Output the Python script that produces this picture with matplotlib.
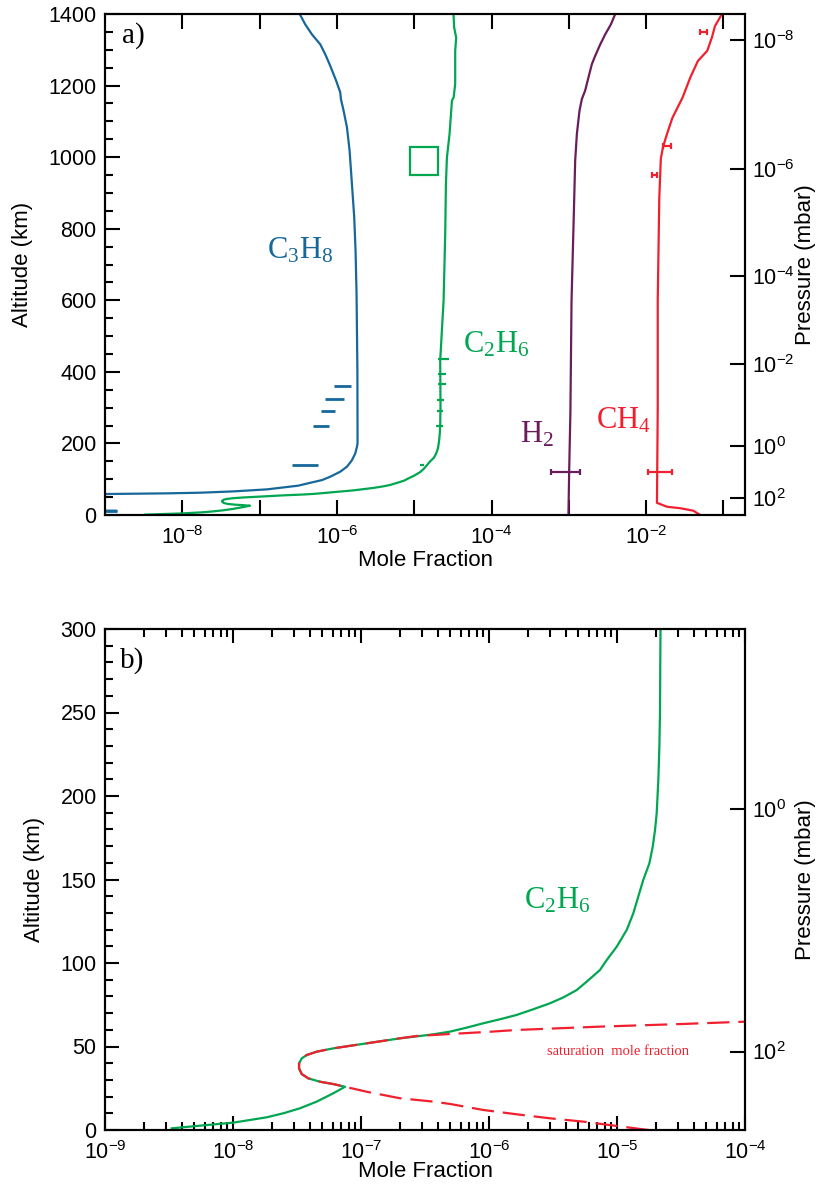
import numpy as np
import matplotlib
matplotlib.use("Agg")
import matplotlib.pyplot as plt
from matplotlib.ticker import MultipleLocator, NullLocator, LogLocator, NullFormatter

plt.rcParams['font.family'] = ['Liberation Sans', 'DejaVu Sans']
plt.rcParams['mathtext.default'] = 'regular'
plt.rcParams['axes.unicode_minus'] = False

# ---------------- data (log10 of mole fraction vs altitude km) ----------------
c3h8_alt = [1397, 1371, 1343, 1315, 1287, 1255, 1213, 1181, 1162, 1130, 1083, 1018, 925, 832, 739, 618,
            400, 200, 190.5, 172, 153, 135, 121, 107, 97.6, 90, 82, 71.6, 66, 62.3, 60.5, 59.5, 58.6,
            56, 14, 11.5, 9, 0]
c3h8_log10x = [-6.474, -6.41, -6.323, -6.215, -6.15, -6.086, -6.009, -5.957, -5.948, -5.914, -5.87,
               -5.836, -5.806, -5.776, -5.759, -5.746, -5.735, -5.733, -5.741, -5.763, -5.806, -5.87,
               -5.957, -6.086, -6.193, -6.345, -6.50, -6.905, -7.336, -7.767, -8.198, -8.629, -8.995,
               -10.0, -10.0, -8.85, -10.0, -10.0]

c2h6_alt = [1400, 1362, 1334, 1297, 1204, 1167, 1158, 1065, 999, 925, 786, 600, 432, 300, 279.4, 249.5,
            229.5, 209.6, 189.6, 179.6, 169.6, 159.7, 149.7, 139.7, 129.7, 119.8, 109.8, 101.8, 95.8,
            88.8, 83.8, 79.4, 75.9, 72.3, 68.9, 66.3, 63.9, 61.3, 58.9, 57.3, 56.3, 54.9, 51.9, 48.9,
            46.9, 44.9, 42.9, 39.9, 36.9, 33.5, 30.9, 28.9, 27.5, 25.9, 22.0, 17.0, 13.0, 10.0, 7.6,
            4.4, 2.6, 1.0]
c2h6_log10x = [-4.492, -4.483, -4.457, -4.47, -4.47, -4.49, -4.512, -4.543, -4.577, -4.59, -4.599, -4.62,
               -4.664, -4.66, -4.662, -4.664, -4.669, -4.677, -4.69, -4.703, -4.721, -4.747, -4.795,
               -4.834, -4.873, -4.924, -5.002, -5.080, -5.133, -5.237, -5.315, -5.419, -5.523, -5.654,
               -5.784, -5.914, -6.045, -6.174, -6.305, -6.435, -6.539, -6.695, -6.955, -7.216, -7.346,
               -7.424, -7.463, -7.484, -7.484, -7.463, -7.411, -7.32, -7.216, -7.125, -7.216, -7.346,
               -7.477, -7.607, -7.737, -7.998, -8.258, -8.479]

h2_alt = [1400, 1371, 1343, 1315, 1283, 1260, 1223, 1186, 1162, 1130, 1065, 990, 879, 739, 600, 284,
          120, 0]
h2_log10x = [-2.40, -2.456, -2.53, -2.594, -2.659, -2.702, -2.746, -2.789, -2.832, -2.862, -2.896,
             -2.918, -2.931, -2.948, -2.965, -2.98, -2.996, -3.005]

ch4_alt = [1400, 1366, 1334, 1297, 1269, 1222, 1166, 1110, 1065, 1030, 996, 886, 600, 300, 34, 23, 19,
           12, 0]
ch4_log10x = [-1.02, -1.11, -1.15, -1.21, -1.33, -1.43, -1.53, -1.66, -1.73, -1.78, -1.81, -1.83, -1.85,
              -1.85, -1.86, -1.73, -1.56, -1.39, -1.30]

# saturation mole fraction of C2H6 (panel b)
sat_alt = [0, 2.4, 5, 7, 9.4, 12, 15.6, 17, 19, 22.9, 25.9, 27.5, 28.9, 30.9, 33.5, 36.9, 39.9, 42.9,
           44.9, 46.9, 48.9, 51.9, 54.9, 56.3, 57.5, 58.8, 59.9, 61.9, 63.5, 64.9]
sat_log10x = [-4.755, -5.0, -5.263, -5.523, -5.784, -6.045, -6.305, -6.435, -6.695, -6.955, -7.125,
              -7.216, -7.32, -7.411, -7.463, -7.484, -7.484, -7.463, -7.424, -7.346, -7.216, -6.955,
              -6.695, -6.565, -6.30, -6.0, -5.784, -5.133, -4.482, -3.987]

# observations (horizontal error ranges)
c3h8_obs_alt = [361, 324, 290, 249, 139, 11]
c3h8_obs_lo = [-6.04, -6.16, -6.21, -6.31, -6.58, -9.3]
c3h8_obs_hi = [-5.82, -5.91, -6.02, -6.10, -6.24, -8.85]

c2h6_obs_alt = [435, 395, 365, 320, 290, 249, 140]
c2h6_obs_lo = [-4.69, -4.69, -4.69, -4.70, -4.71, -4.72, -4.92]
c2h6_obs_hi = [-4.55, -4.59, -4.59, -4.62, -4.63, -4.63, -4.87]

c2h6_square_alt = [990]
c2h6_square_log10x = [-4.88]

h2_obs_alt = [119]
h2_obs_mid = [-3.00]
h2_obs_lo = [-3.23]
h2_obs_hi = [-2.86]

ch4_obs_alt = [1350, 1030, 951, 119]
ch4_obs_mid = [-1.255, -1.73, -1.89, -1.84]
ch4_obs_lo = [-1.30, -1.78, -1.92, -1.97]
ch4_obs_hi = [-1.21, -1.68, -1.86, -1.67]

# pressure axis (altitude of pressure levels)
p_exp = [2, 0, -2, -4, -6, -8]
p_alt = [47, 192, 421, 667, 968, 1328]

a_xtick_exp = [-8, -7, -6, -5, -4, -3, -2, -1]
a_xlabel_exp = [-8, -6, -4, -2]
b_xtick_exp = [-9, -8, -7, -6, -5, -4]

# ---------------- styles ----------------
BLUE = '#16679a'
GREEN = '#00a650'
PURPLE = '#6a1d5c'
RED = '#f0202e'
LW = 1.6
TICKFS = 15.5
LABFS = 16
SERIF = ['Liberation Serif', 'DejaVu Serif']


def p10(v):
    return 10.0 ** np.asarray(v, dtype=float)


def lab(e):
    return r'$10^{%d}$' % e


fig = plt.figure(figsize=(8.16, 11.84), dpi=100)
axa = fig.add_axes([105 / 816, 1 - 515 / 1184, 640 / 816, 501 / 1184])
axb = fig.add_axes([105 / 816, 1 - 1130 / 1184, 640 / 816, 501 / 1184])

for ax in (axa, axb):
    for s in ax.spines.values():
        s.set_linewidth(1.5)

# ---------------- panel a ----------------
axa.set_xscale('log')
axa.plot(p10(c3h8_log10x), c3h8_alt, color=BLUE, lw=LW)
axa.plot(p10(c2h6_log10x), c2h6_alt, color=GREEN, lw=LW)
axa.plot(p10(h2_log10x), h2_alt, color=PURPLE, lw=LW)
axa.plot(p10(ch4_log10x), ch4_alt, color=RED, lw=LW)

axa.hlines(c3h8_obs_alt, p10(c3h8_obs_lo), p10(c3h8_obs_hi), color=BLUE, lw=2.0)
axa.hlines(c2h6_obs_alt, p10(c2h6_obs_lo), p10(c2h6_obs_hi), color=GREEN, lw=1.6)
axa.plot(p10(c2h6_square_log10x), c2h6_square_alt, ls='none', marker='s', ms=20, mfc='none',
         mec=GREEN, mew=1.6)
hm = p10(h2_obs_mid)
axa.errorbar(hm, h2_obs_alt, xerr=[hm - p10(h2_obs_lo), p10(h2_obs_hi) - hm], fmt='none',
             ecolor=PURPLE, elinewidth=1.6, capsize=2.5, capthick=1.6)
cm = p10(ch4_obs_mid)
axa.errorbar(cm, ch4_obs_alt, xerr=[cm - p10(ch4_obs_lo), p10(ch4_obs_hi) - cm], fmt='none',
             ecolor=RED, elinewidth=1.6, capsize=2.5, capthick=1.6)

axa.set_xlim(1e-9, 0.19)
axa.set_ylim(0, 1400)
axa.set_xticks(p10(a_xtick_exp))
axa.set_xticklabels([lab(e) if e in a_xlabel_exp else '' for e in a_xtick_exp])
axa.xaxis.set_minor_locator(NullLocator())
axa.yaxis.set_major_locator(MultipleLocator(200))
axa.yaxis.set_minor_locator(MultipleLocator(50))
axa.tick_params(axis='both', which='both', direction='in', top=True, right=False, labelsize=TICKFS, width=1.5)
axa.tick_params(axis='both', which='major', length=11)
axa.tick_params(axis='both', which='minor', length=6)
axa.tick_params(axis='x', pad=8)
axa.tick_params(axis='y', pad=6)
axa.set_xlabel('Mole Fraction', fontsize=LABFS, labelpad=1)
axa.set_ylabel('Altitude (km)', fontsize=LABFS)
axa.yaxis.set_label_coords((33 - 105) / 640, 0.5)

ta = axa.twinx()
ta.set_ylim(axa.get_ylim())
ta.set_yticks(p_alt)
ta.set_yticklabels([lab(e) for e in p_exp])
ta.yaxis.set_minor_locator(NullLocator())
ta.tick_params(axis='y', direction='in', length=11, width=1.5, labelsize=TICKFS, pad=5)
ta.set_ylabel('Pressure (mbar)', fontsize=LABFS, rotation=90, va='center', ha='center')
ta.yaxis.set_label_coords((805 - 105) / 640, 0.5)
for s in ta.spines.values():
    s.set_linewidth(1.5)

axa.text(0.027, 0.942, 'a)', transform=axa.transAxes, fontsize=21, family=SERIF, va='baseline')
axa.text(p10(-6.90), 717, r'C$_3$H$_8$', color=BLUE, fontsize=22, family=SERIF, va='baseline')
axa.text(p10(-4.37), 455, r'C$_2$H$_6$', color=GREEN, fontsize=22, family=SERIF, va='baseline')
axa.text(p10(-3.63), 202, r'H$_2$', color=PURPLE, fontsize=22, family=SERIF, va='baseline')
axa.text(p10(-2.65), 242, r'CH$_4$', color=RED, fontsize=22, family=SERIF, va='baseline')

# ---------------- panel b ----------------
axb.set_xscale('log')
axb.plot(p10(c2h6_log10x), c2h6_alt, color=GREEN, lw=LW)
axb.plot(p10(sat_log10x), sat_alt, color=RED, lw=LW, dashes=(10, 4))
axb.set_xlim(1e-9, 1e-4)
axb.set_ylim(0, 300)
axb.set_xticks(p10(b_xtick_exp))
axb.set_xticklabels([lab(e) for e in b_xtick_exp])
axb.xaxis.set_minor_locator(LogLocator(base=10, subs=np.arange(2, 10), numticks=20))
axb.xaxis.set_minor_formatter(NullFormatter())
axb.yaxis.set_major_locator(MultipleLocator(50))
axb.yaxis.set_minor_locator(MultipleLocator(10))
axb.tick_params(axis='both', which='both', direction='in', top=True, right=False, labelsize=TICKFS, width=1.5)
axb.tick_params(axis='both', which='major', length=10)
axb.tick_params(axis='both', which='minor', length=6)
axb.tick_params(axis='x', pad=8)
axb.tick_params(axis='y', pad=6)
axb.set_xlabel('Mole Fraction', fontsize=LABFS, labelpad=-2)
axb.set_ylabel('Altitude (km)', fontsize=LABFS)
axb.yaxis.set_label_coords((45 - 105) / 640, 0.5)

tb = axb.twinx()
tb.set_ylim(axb.get_ylim())
sel = [(a, e) for a, e in zip(p_alt, p_exp) if a <= 300]
tb.set_yticks([a for a, e in sel])
tb.set_yticklabels([lab(e) for a, e in sel])
tb.yaxis.set_minor_locator(NullLocator())
tb.tick_params(axis='y', direction='in', length=11, width=1.5, labelsize=TICKFS, pad=5)
tb.set_ylabel('Pressure (mbar)', fontsize=LABFS, rotation=90, va='center', ha='center')
tb.yaxis.set_label_coords((805 - 105) / 640, 0.5)
for s in tb.spines.values():
    s.set_linewidth(1.5)

axb.text(0.024, 0.922, 'b)', transform=axb.transAxes, fontsize=21, family=SERIF, va='baseline')
axb.text(p10(-5.73), 132.8, r'C$_2$H$_6$', color=GREEN, fontsize=22, family=SERIF, va='baseline')
axb.text(p10(-5.55), 45, 'saturation  mole fraction', color=RED, fontsize=10.5, family=SERIF, va='baseline')

fig.savefig('out.png', dpi=100)
